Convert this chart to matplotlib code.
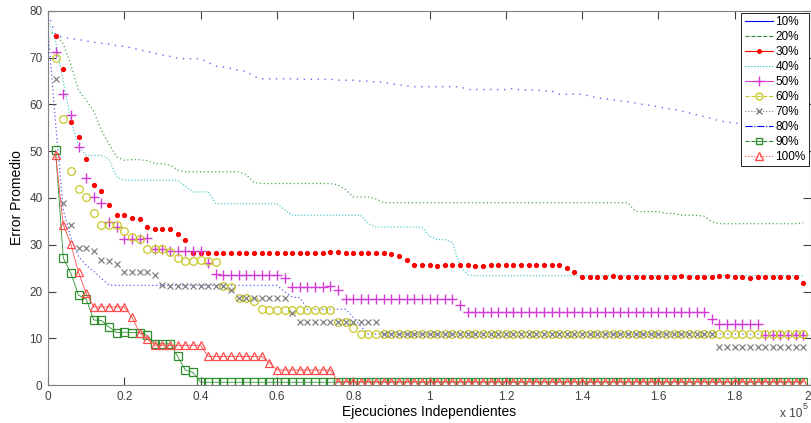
import numpy as np
import matplotlib
matplotlib.use("Agg")
import matplotlib.pyplot as plt
from matplotlib.lines import Line2D

plt.rcParams['font.family'] = ['Liberation Sans', 'DejaVu Sans']

# x in units of 10^5 executions; line series start at 0, marker series at 0.02
x_line = np.arange(0, 100) * 0.02
x_mark = x_line[1:]

# line series (100 values, k = 0..99)
p10 = [79.5, 74.8, 74.3, 74.1, 73.9, 73.6, 73.3, 73.1, 72.9, 72.6,
       72.4, 72.1, 71.7, 71.3, 71.0, 70.6, 70.3, 69.9, 69.8, 69.8,
       69.8, 69.0, 68.2, 68.0, 67.7, 67.3, 67.1, 66.0, 65.5, 65.5,
       65.5, 65.5, 65.5, 65.4, 65.4, 65.4, 65.4, 65.4, 65.2, 65.2,
       65.2, 65.0, 65.0, 64.8, 64.8, 64.4, 64.2, 64.0, 63.8, 63.8,
       63.8, 63.8, 63.8, 63.8, 63.8, 63.2, 63.2, 63.2, 63.2, 63.2,
       63.2, 63.4, 63.1, 63.1, 63.1, 62.9, 62.9, 62.2, 62.2, 62.2,
       62.2, 61.8, 61.4, 61.2, 61.0, 60.8, 60.6, 60.3, 60.0, 59.8,
       59.5, 59.2, 59.0, 58.6, 58.2, 57.8, 57.4, 57.0, 56.5, 56.2,
       56.0, 56.0, 56.0, 56.1, 56.3, 56.4, 56.5, 56.6, 56.6, 56.5]
p20 = [75.5, 75.0, 73.0, 68.5, 63.0, 61.0, 58.5, 54.5, 51.5, 48.8,
       48.1, 48.2, 48.2, 48.0, 47.4, 47.3, 47.0, 46.0, 45.6, 45.6,
       45.6, 45.6, 45.6, 45.6, 45.6, 45.6, 45.0, 43.3, 43.1, 43.1,
       43.1, 43.1, 43.1, 43.1, 43.1, 43.1, 43.1, 43.1, 42.8, 41.8,
       40.2, 40.2, 40.2, 39.8, 39.0, 39.0, 39.0, 39.0, 39.0, 39.0,
       39.0, 39.0, 39.0, 39.0, 39.0, 39.0, 39.0, 39.0, 39.0, 39.0,
       39.0, 39.0, 39.0, 39.0, 39.0, 39.0, 39.0, 39.0, 39.0, 39.0,
       39.0, 39.0, 39.0, 39.0, 39.0, 39.0, 39.0, 37.1, 37.1, 37.1,
       37.1, 36.7, 36.7, 36.3, 36.3, 36.3, 36.1, 34.9, 34.5, 34.5,
       34.5, 34.5, 34.5, 34.5, 34.5, 34.5, 34.5, 34.5, 34.5, 34.7]
p40 = [78.0, 73.5, 65.0, 56.5, 51.2, 49.1, 49.1, 49.1, 48.3, 44.5,
       43.8, 43.8, 43.8, 43.8, 43.8, 43.8, 43.8, 43.8, 42.5, 41.3,
       41.3, 41.3, 38.8, 38.8, 38.8, 38.8, 38.8, 38.8, 38.8, 38.8,
       38.8, 37.5, 36.3, 36.3, 36.3, 36.3, 36.3, 36.3, 36.3, 36.3,
       36.3, 36.3, 34.5, 33.8, 33.8, 33.8, 33.8, 33.8, 33.8, 33.8,
       31.8, 31.1, 31.1, 30.5, 25.5, 23.6, 23.4, 23.4, 23.4, 23.4,
       23.4, 23.4, 23.4, 23.4, 23.4, 23.4, 23.4, 23.4, 23.4, 23.4,
       23.4, 23.4, 23.4, 23.4, 23.4, 23.4, 23.4, 23.4, 23.4, 23.4,
       23.4, 23.4, 23.4, 23.4, 23.4, 23.4, 23.4, 23.4, 23.4, 23.4,
       23.4, 23.4, 23.4, 23.4, 23.4, 23.4, 23.4, 23.4, 23.4, 23.4]
p80 = [76.0, 55.8, 37.5, 31.5, 27.5, 25.6, 24.3, 22.8, 21.4, 21.3,
       21.3, 21.3, 21.3, 21.3, 21.3, 21.3, 21.3, 21.3, 21.3, 21.3,
       21.3, 21.3, 21.3, 21.3, 21.3, 21.3, 21.3, 21.3, 21.3, 21.3,
       21.3, 20.0, 18.8, 18.7, 16.2, 16.2, 16.2, 16.2, 16.2, 16.2,
       14.5, 12.5, 10.9, 10.9, 10.9, 10.9, 10.9, 10.9, 10.9, 10.9,
       10.9, 10.9, 10.9, 10.9, 10.9, 10.9, 10.9, 10.9, 10.9, 10.9,
       10.9, 10.9, 10.9, 10.9, 10.9, 10.9, 10.9, 10.9, 10.9, 10.9,
       10.9, 10.9, 10.9, 10.9, 10.9, 10.9, 10.9, 10.9, 10.9, 10.9,
       10.9, 10.9, 10.9, 10.9, 10.9, 10.9, 10.9, 10.9, 10.9, 10.9,
       10.9, 10.9, 10.9, 10.9, 10.9, 10.9, 10.9, 10.9, 10.9, 10.9]

# marker series (99 values, k = 1..99)
p30 = [74.7, 67.5, 56.3, 53.1, 48.4, 42.8, 41.4, 38.5, 36.3, 36.3,
       35.8, 35.6, 33.8, 33.3, 33.3, 33.3, 32.4, 31.1, 28.3, 28.3,
       28.3, 28.2, 28.2, 28.2, 28.2, 28.2, 28.2, 28.2, 28.2, 28.2,
       28.2, 28.2, 28.2, 28.2, 28.2, 28.2, 28.4, 28.4, 28.2, 28.2,
       28.2, 28.2, 28.2, 28.2, 28.1, 27.6, 26.7, 25.6, 25.6, 25.6,
       25.4, 25.6, 25.6, 25.6, 25.6, 25.4, 25.4, 25.6, 25.6, 25.6,
       25.6, 25.6, 25.6, 25.6, 25.6, 25.6, 25.6, 25.1, 24.1, 23.0,
       23.2, 23.1, 23.1, 23.3, 23.1, 23.1, 23.0, 23.1, 23.1, 23.1,
       23.1, 23.1, 23.3, 23.1, 23.1, 23.1, 23.1, 23.3, 23.3, 23.1,
       23.1, 22.8, 23.1, 23.1, 23.1, 23.1, 23.1, 23.1, 21.9]
p50 = [71.3, 62.2, 57.7, 50.9, 44.3, 40.2, 39.0, 34.9, 33.8, 31.2,
       31.2, 31.2, 31.4, 29.0, 29.0, 28.7, 28.6, 28.6, 28.6, 28.6,
       26.1, 23.8, 23.6, 23.6, 23.6, 23.6, 23.6, 23.6, 23.6, 23.6,
       22.8, 20.9, 20.9, 20.9, 20.9, 20.9, 21.2, 20.4, 18.4, 18.4,
       18.4, 18.4, 18.4, 18.4, 18.4, 18.4, 18.4, 18.4, 18.4, 18.4,
       18.4, 18.4, 18.4, 17.1, 15.7, 15.7, 15.7, 15.7, 15.7, 15.7,
       15.7, 15.7, 15.7, 15.7, 15.7, 15.7, 15.7, 15.7, 15.7, 15.7,
       15.7, 15.7, 15.7, 15.7, 15.7, 15.7, 15.7, 15.7, 15.7, 15.7,
       15.7, 15.7, 15.7, 15.7, 15.7, 15.7, 14.2, 13.0, 13.0, 13.0,
       13.0, 13.0, 13.0, 10.7, 10.7, 10.7, 10.7, 10.7, 10.7]
p60 = [70.0, 57.0, 45.7, 42.0, 40.3, 36.7, 34.2, 34.2, 34.2, 32.9,
       31.7, 31.2, 29.0, 29.0, 29.0, 28.5, 27.1, 26.5, 26.5, 26.7,
       26.5, 26.4, 21.2, 21.0, 18.7, 18.7, 18.0, 16.2, 16.1, 16.1,
       16.1, 16.1, 16.1, 16.1, 16.1, 16.1, 16.1, 13.5, 13.5, 12.1,
       10.9, 10.9, 10.9, 10.9, 10.9, 10.9, 10.9, 10.9, 10.9, 10.9,
       10.9, 10.9, 10.9, 10.9, 10.9, 10.9, 10.9, 10.9, 10.9, 10.9,
       10.9, 10.9, 10.9, 10.9, 10.9, 10.9, 10.9, 10.9, 10.9, 10.9,
       10.9, 10.9, 10.9, 10.9, 10.9, 10.9, 10.9, 10.9, 10.9, 10.9,
       10.9, 10.9, 10.9, 10.9, 10.9, 10.9, 10.9, 10.9, 10.9, 10.9,
       10.9, 10.9, 10.9, 10.9, 10.9, 10.9, 10.9, 10.9, 10.9]
p70 = [65.4, 39.0, 34.3, 29.2, 29.2, 28.7, 26.7, 26.6, 25.8, 24.1,
       24.1, 24.1, 24.1, 23.6, 21.4, 21.2, 21.2, 21.2, 21.2, 21.2,
       21.2, 21.2, 21.2, 20.3, 18.7, 18.7, 18.7, 18.7, 18.7, 18.7,
       18.7, 15.4, 13.5, 13.5, 13.5, 13.5, 13.5, 13.5, 13.5, 13.5,
       13.5, 13.5, 13.5, 10.9, 10.9, 10.9, 10.9, 10.9, 10.9, 10.9,
       10.9, 10.9, 10.9, 10.9, 10.9, 10.9, 10.9, 10.9, 10.9, 10.9,
       10.9, 10.9, 10.9, 10.9, 10.9, 10.9, 10.9, 10.9, 10.9, 10.9,
       10.9, 10.9, 10.9, 10.9, 10.9, 10.9, 10.9, 10.9, 10.9, 10.9,
       10.9, 10.9, 10.9, 10.9, 10.9, 10.9, 10.9, 8.2, 8.2, 8.2,
       8.2, 8.2, 8.2, 8.2, 8.2, 8.2, 8.2, 8.2, 8.2]
p90 = [50.2, 27.2, 23.9, 19.2, 18.4, 13.9, 13.8, 12.4, 11.2, 11.3,
       11.2, 11.2, 10.6, 8.8, 8.8, 8.8, 6.1, 3.2, 2.7, 0.6,
       0.6, 0.6, 0.6, 0.6, 0.6, 0.6, 0.6, 0.6, 0.6, 0.6,
       0.6, 0.6, 0.6, 0.6, 0.6, 0.6, 0.6, 0.6, 0.6, 0.6,
       0.6, 0.6, 0.6, 0.6, 0.6, 0.6, 0.6, 0.6, 0.6, 0.6,
       0.6, 0.6, 0.6, 0.6, 0.6, 0.6, 0.6, 0.6, 0.6, 0.6,
       0.6, 0.6, 0.6, 0.6, 0.6, 0.6, 0.6, 0.6, 0.6, 0.6,
       0.6, 0.6, 0.6, 0.6, 0.6, 0.6, 0.6, 0.6, 0.6, 0.6,
       0.6, 0.6, 0.6, 0.6, 0.6, 0.6, 0.6, 0.6, 0.6, 0.6,
       0.6, 0.6, 0.6, 0.6, 0.6, 0.6, 0.6, 0.6, 0.6]
p100 = [49.1, 34.3, 30.1, 24.1, 19.6, 16.7, 16.7, 16.7, 16.7, 16.7,
        14.5, 11.2, 9.9, 8.5, 8.5, 8.5, 8.5, 8.5, 8.5, 8.5,
        6.1, 6.1, 6.1, 6.1, 6.1, 6.1, 6.1, 6.1, 4.8, 3.2,
        3.2, 3.2, 3.2, 3.2, 3.2, 3.2, 3.2, 0.7, 0.7, 0.7,
        0.7, 0.7, 0.7, 0.7, 0.7, 0.7, 0.7, 0.7, 0.7, 0.7,
        0.7, 0.7, 0.7, 0.7, 0.7, 0.7, 0.7, 0.7, 0.7, 0.7,
        0.7, 0.7, 0.7, 0.7, 0.7, 0.7, 0.7, 0.7, 0.7, 0.7,
        0.7, 0.7, 0.7, 0.7, 0.7, 0.7, 0.7, 0.7, 0.7, 0.7,
        0.7, 0.7, 0.7, 0.7, 0.7, 0.7, 0.7, 0.7, 0.7, 0.7,
        0.7, 0.7, 0.7, 0.7, 0.7, 0.7, 0.7, 0.7, 0.7]

labels = ["10%", "20%", "30%", "40%", "50%", "60%", "70%", "80%", "90%", "100%"]
xticks = [0, 0.2, 0.4, 0.6, 0.8, 1, 1.2, 1.4, 1.6, 1.8, 2]
xtick_labels = ["0", "0.2", "0.4", "0.6", "0.8", "1", "1.2", "1.4", "1.6", "1.8", "2"]
yticks = [0, 10, 20, 30, 40, 50, 60, 70, 80]

fig = plt.figure(figsize=(8.12, 4.23), dpi=100)
ax = fig.add_axes([48 / 812, 38 / 423, 763 / 812, 374 / 423])

# lines (drawn faint/dotted as in the original render)
ax.plot(x_line, p10, color='#6a6af0', linestyle=(0, (1, 4)), linewidth=1.0)
ax.plot(x_line, p20, color='#4fa64f', linestyle=(0, (1, 2)), linewidth=0.9)
ax.plot(x_line, p40, color='#5ccccc', linestyle=(0, (1, 1.5)), linewidth=0.9)
ax.plot(x_line, p80, color='#6060f0', linestyle=(0, (1, 2)), linewidth=0.9)

# marker series
ax.plot(x_mark, p30, color='red', linestyle='none', marker='.', markersize=5.5)
ax.plot(x_mark, p50, color='#d23cd2', linestyle='none', marker='+', markersize=7, markeredgewidth=1.0)
ax.plot(x_mark, p60, color='#c8c828', linestyle='none', marker='o', markersize=5.5,
        markerfacecolor='none', markeredgewidth=0.9)
ax.plot(x_mark, p70, color='#808080', linestyle='none', marker='x', markersize=4, markeredgewidth=0.9)
ax.plot(x_mark, p90, color='#2f8f2f', linestyle='-', linewidth=0.6, marker='s', markersize=5.5,
        markerfacecolor='none', markeredgewidth=0.9)
ax.plot(x_mark, p100, color='#ff4d4d', linestyle='-', linewidth=0.6, marker='^', markersize=6,
        markerfacecolor='none', markeredgewidth=0.9)

ax.set_xlim(0, 2)
ax.set_ylim(0, 80)
ax.set_xticks(xticks)
ax.set_xticklabels(xtick_labels)
ax.set_yticks(yticks)
ax.tick_params(direction='in', top=True, right=True, length=5.5, width=0.8,
               color='#404040', labelsize=8.5, labelcolor='#404040', pad=4)
# last label sits on the figure edge: keep it inside
ax.get_xticklabels()[-1].set_horizontalalignment('right')
for s in ax.spines.values():
    s.set_color('#808080')
    s.set_linewidth(0.8)

ax.set_xlabel("Ejecuciones Independientes", fontsize=10, labelpad=2)
ax.set_ylabel("Error Promedio", fontsize=10, labelpad=4)

fig.text(802 / 812, 6 / 423, "x 10", ha='right', va='baseline', fontsize=8.5, color='#404040')
fig.text(803 / 812, 14 / 423, "5", ha='left', va='baseline', fontsize=6.5, color='#404040')

# legend with the original line styles
handles = [
    Line2D([], [], color='blue', linestyle='-', linewidth=0.8),
    Line2D([], [], color='#2f8f2f', linestyle='--', linewidth=0.8),
    Line2D([], [], color='red', linestyle='-', linewidth=0.8, marker='.', markersize=5),
    Line2D([], [], color='#00bfbf', linestyle=':', linewidth=0.8),
    Line2D([], [], color='#d23cd2', linestyle='-', linewidth=0.8, marker='+', markersize=7),
    Line2D([], [], color='#c8c828', linestyle='--', linewidth=0.8, marker='o', markersize=5,
           markerfacecolor='none'),
    Line2D([], [], color='#808080', linestyle=':', linewidth=0.8, marker='x', markersize=4),
    Line2D([], [], color='blue', linestyle='-.', linewidth=0.8),
    Line2D([], [], color='#2f8f2f', linestyle='--', linewidth=0.8, marker='s', markersize=5,
           markerfacecolor='none'),
    Line2D([], [], color='#ff4d4d', linestyle=':', linewidth=0.8, marker='^', markersize=5.5,
           markerfacecolor='none'),
]
leg = ax.legend(handles, labels, loc='upper right', bbox_to_anchor=(1.0, 1.0), borderaxespad=0.15,
                fontsize=8.5, handlelength=2.4, handletextpad=0.2, labelspacing=0.25,
                borderpad=0.3, fancybox=False, framealpha=1, edgecolor='black', numpoints=1)
leg.get_frame().set_linewidth(0.6)

fig.savefig("out.png", dpi=100)
